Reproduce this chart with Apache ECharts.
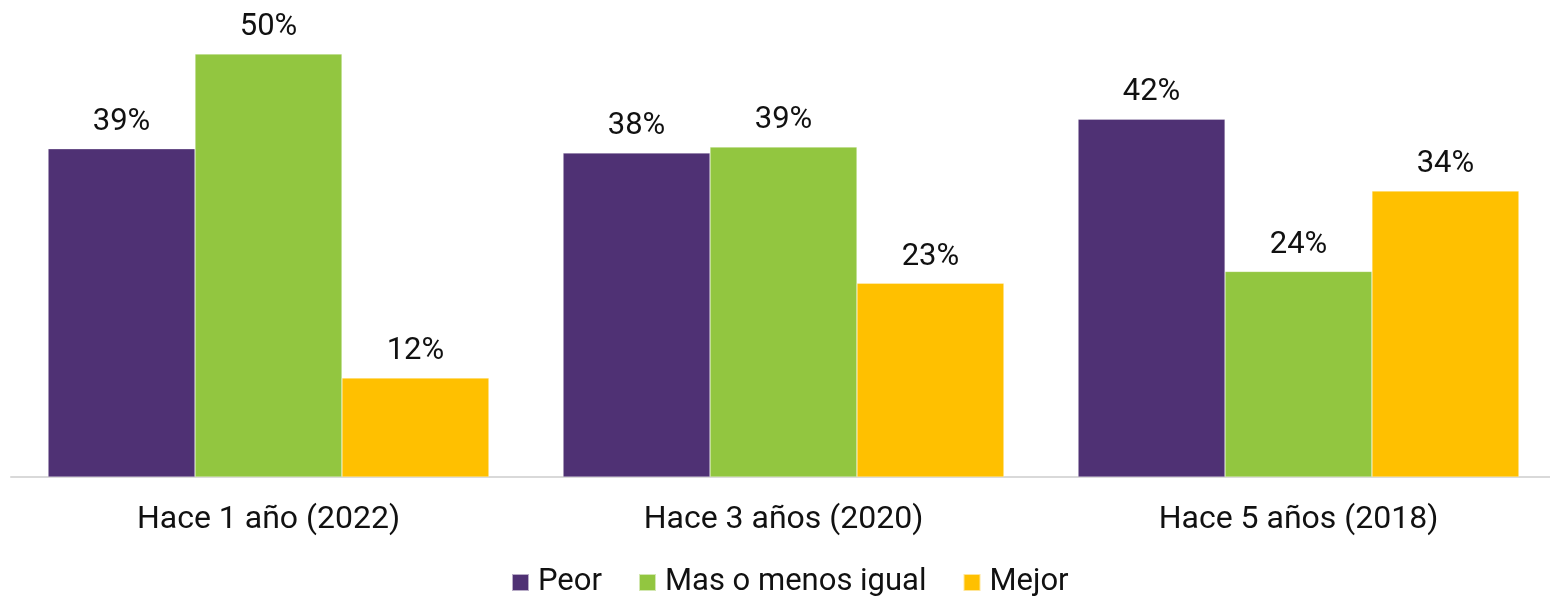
<!DOCTYPE html>
<html>
<head>
<meta charset="utf-8">
<script src="https://cdn.jsdelivr.net/npm/echarts@6/dist/echarts.min.js"></script>
<style>
html,body{margin:0;padding:0;background:#fff;}
#chart{width:1550px;height:597px;}
</style>
</head>
<body>
<div id="chart"></div>
<script>
var categories = ['Hace 1 año (2022)', 'Hace 3 años (2020)', 'Hace 5 años (2018)'];
var seriesNames = ['Peor', 'Mas o menos igual', 'Mejor'];
var peor = [38.8, 38.3, 42.3];
var igual = [50.0, 39.0, 24.3];
var mejor = [11.7, 22.9, 33.8];
var colors = ['#4f3174', '#92c640', '#ffc000'];

var chart = echarts.init(document.getElementById('chart'));

function makeSeries(name, data, color){
	return {
		name: name,
		type: 'bar',
		data: data,
		barGap: '0%',
		barCategoryGap: '14.4%',
		itemStyle: {color: color, borderColor: 'rgba(255,255,255,0.6)', borderWidth: 0.5},
		label: {
			show: true,
			position: 'top',
			distance: 11,
			color: '#111',
			fontSize: 31,
			fontFamily: 'Roboto',
			formatter: function(p){ return Math.round(p.value) + '%'; }
		}
	};
}

var option = {
	animation: false,
	textStyle: {fontFamily: 'Roboto'},
	grid: {left: 11, width: 1545, top: 54, bottom: 120, outerBoundsMode: 'none'},
	legend: {
		top: 562,
		left: 506,
		itemWidth: 17,
		itemHeight: 17,
		itemGap: 36,
		icon: 'rect',
		textStyle: {fontSize: 31, color: '#111', fontFamily: 'Roboto', padding: [0, 0, 0, 4]},
		data: seriesNames
	},
	xAxis: {
		type: 'category',
		data: categories,
		axisLine: {lineStyle: {color: '#d9d9d9', width: 2}},
		axisTick: {show: false},
		axisLabel: {fontSize: 32, color: '#111', margin: 27, fontFamily: 'Roboto'}
	},
	yAxis: {
		type: 'value',
		min: 0,
		max: 50,
		show: false,
		splitLine: {show: false}
	},
	series: [
		makeSeries(seriesNames[0], peor, colors[0]),
		makeSeries(seriesNames[1], igual, colors[1]),
		makeSeries(seriesNames[2], mejor, colors[2])
	]
};

chart.setOption(option);
</script>
</body>
</html>
